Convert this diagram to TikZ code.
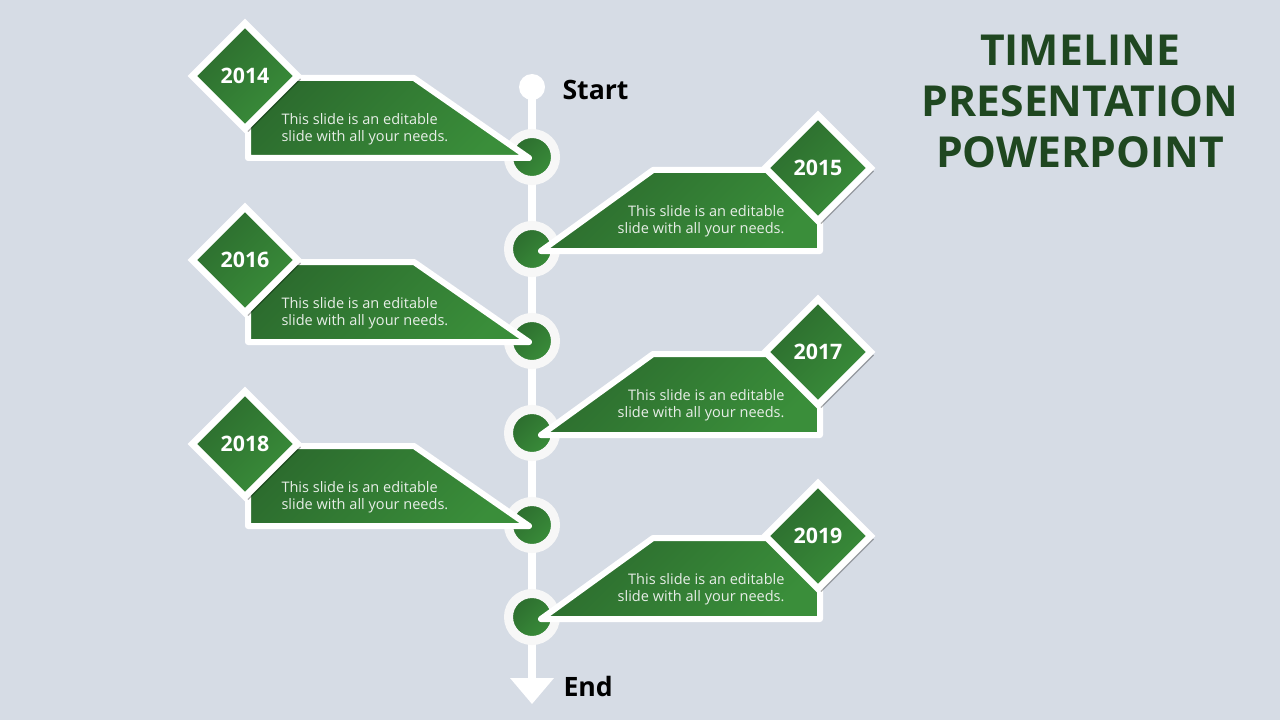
\documentclass[tikz,border=0pt]{standalone}
\usepackage{fontspec}
\setmainfont{Open Sans}
\usepackage{tikz}
\usetikzlibrary{calc,shapes.geometric,shadows}
\definecolor{slidebg}{RGB}{214,220,229}
\definecolor{grdark}{RGB}{44,108,46}
\definecolor{grlight}{RGB}{58,142,58}
\definecolor{titlegreen}{RGB}{31,71,32}
\definecolor{ringwhite}{RGB}{247,247,247}
\definecolor{bodytext}{RGB}{232,238,232}
\tikzset{every picture/.style={line width=0.75pt}}
\tikzset{
  greenfill/.style={top color=grdark,bottom color=grlight,shading angle=45},
  ring/.style={circle,draw=ringwhite,line width=6.75pt,minimum size=35.25pt,inner sep=0pt,greenfill,
    drop shadow={shadow xshift=0.8pt,shadow yshift=-0.8pt,opacity=0.12,fill=black}},
  panel/.style={draw=white,line width=4.5pt,line join=round,greenfill},
  yearbox/.style={diamond,aspect=1,draw=white,line width=5pt,minimum width=81pt,minimum height=81pt,inner sep=0pt,
    greenfill,text=white,font=\fontsize{16}{18}\selectfont\bfseries,
    drop shadow={shadow xshift=2.5pt,shadow yshift=-2.5pt,opacity=0.3,fill=black}},
  bodynote/.style={text=bodytext,font=\fontsize{10.9}{12.75}\selectfont,inner sep=0pt},
  endlabel/.style={anchor=west,font=\fontsize{20}{22}\selectfont\bfseries,inner sep=0pt}
}

\begin{document}
\begin{tikzpicture}[x=0.75pt,y=0.75pt,yscale=-1,xscale=1]
		%Background
		\fill [slidebg] (0,0) rectangle (1280,720) ;
		\useasboundingbox (0,0) rectangle (1280,720) ;
		
		%Start dot and arrow end
		\node [circle,fill=white,minimum size=19.5pt,inner sep=0pt] (start) at (532,87) {} ;
		\coordinate (arrowbase) at (532,678) ;
		\draw [white,line width=5.5pt] (start.center) -- (arrowbase) ;
		\fill [white] ($(arrowbase)+(-22,0)$) -- ($(arrowbase)+(22,0)$) -- ($(arrowbase)+(0,26)$) -- cycle ;
		\node [endlabel] at (562,90) {Start} ;
		\node [endlabel] at (563,686) {End} ;
		
		%Left rows
		\foreach \yr/\y in {2014/157,2016/341,2018/525}{
			\node [ring] (c\yr) at (532,\y) {} ;
			\draw [panel] ($(c\yr)+(-3,1)$) -- ++(-281,0) -- ++(0,-80) -- ++(166,0) -- cycle ;
			\node [yearbox] (d\yr) at ($(c\yr)+(-287,-81)$) {\yr} ;
			\node [bodynote,anchor=west,align=left] (t\yr) at ($(c\yr)+(-251,-27.5)$) {This slide is an editable\\slide with all your needs.} ;
		}
		
		%Right rows
		\foreach \yr/\y in {2015/249,2017/433,2019/617}{
			\node [ring] (c\yr) at (532,\y) {} ;
			\draw [panel] ($(c\yr)+(9,2)$) -- ++(112,-81) -- ++(167,0) -- ++(0,81) -- cycle ;
			\node [yearbox] (d\yr) at ($(c\yr)+(286,-81)$) {\yr} ;
			\node [bodynote,anchor=east,align=right] (t\yr) at ($(c\yr)+(253,-27.5)$) {This slide is an editable\\slide with all your needs.} ;
		}
		
		%Title
		\node [text=titlegreen,font=\fontsize{32}{38.25}\selectfont\bfseries,align=center] (title) at (1080,101) {TIMELINE\\PRESENTATION\\POWERPOINT} ;
		
\end{tikzpicture}
\end{document}
